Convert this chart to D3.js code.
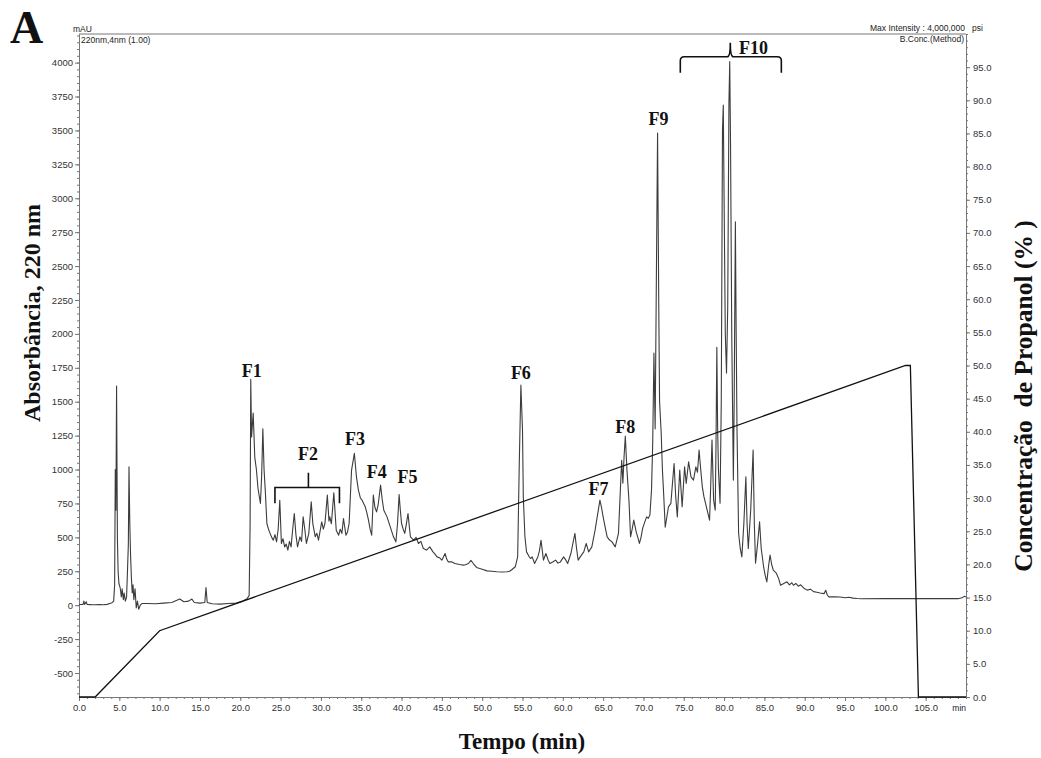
<!DOCTYPE html>
<meta charset="utf-8">
<style>
body { margin: 0; background: #fff; }
svg { display: block; }
.tick text { font: 9.5px "Liberation Sans", Arial, sans-serif; fill: #333; }
.axis path, .axis line { stroke: #777; }
.hdr { font: 8.5px "Liberation Sans", Arial, sans-serif; fill: #222; }
.lab { font-family: "Liberation Serif", "Times New Roman", serif; font-weight: bold; fill: #111; }
</style>
<svg width="1041" height="758"></svg>
<script src="https://d3js.org/d3.v7.min.js"></script>
<script>

// chromatogram, 220 nm (time in min, absorbance in mAU)
var absTime = [0.0,0.5,0.6,0.7,0.9,1.0,1.5,2.0,2.5,3.0,3.5,3.8,4.1,4.3,4.42,4.5,4.58,4.66,4.76,4.85,4.95,5.1,5.25,5.35,5.5,5.6,5.75,5.9,
  6.0,6.12,6.2,6.3,6.4,6.5,6.6,6.7,6.8,6.95,7.1,7.25,7.4,7.6,7.8,8.5,9.5,10.5,11.5,12.5,13.0,13.6,14.0,14.3,15.0,15.6,15.75,15.9,
  16.5,17.5,18.5,19.5,20.3,20.8,21.1,21.22,21.3,21.4,21.6,21.8,22.0,22.2,22.5,22.65,22.8,22.95,23.1,23.3,23.5,23.7,23.9,24.1,24.3,
  24.5,24.7,24.9,25.1,25.3,25.5,25.7,25.9,26.1,26.3,26.5,26.7,26.9,27.1,27.4,27.6,27.8,28.0,28.2,28.5,28.8,29.0,29.3,29.5,29.7,30.1,
  30.3,30.5,30.8,31.0,31.1,31.3,31.6,31.9,32.2,32.4,32.6,32.8,33.1,33.3,33.5,33.8,34.15,34.4,34.65,34.9,35.1,35.3,35.5,35.7,35.9,
  36.1,36.3,36.5,36.7,36.9,37.1,37.4,37.6,37.8,38.2,38.6,39.0,39.3,39.5,39.7,39.85,40.0,40.2,40.4,40.6,40.8,41.0,41.1,41.5,41.8,
  42.1,42.4,42.7,43.1,43.5,43.9,44.1,44.4,44.7,45.0,45.4,45.6,45.8,46.2,46.6,47.2,47.7,48.0,48.3,48.6,48.9,49.3,50.0,50.6,51.2,
  51.8,52.5,53.1,53.4,53.7,54.1,54.4,54.6,54.8,55.0,55.1,55.3,55.5,55.8,56.0,56.2,56.5,56.9,57.1,57.3,57.5,57.6,57.9,58.2,58.4,
  58.8,59.1,59.4,59.7,60.1,60.4,60.6,61.0,61.3,61.5,61.7,61.9,62.2,62.6,62.9,63.2,63.6,64.0,64.3,64.6,64.8,65.0,65.3,65.5,65.8,
  66.1,66.5,66.9,67.1,67.3,67.45,67.6,67.75,67.95,68.2,68.4,68.6,68.8,69.1,69.3,69.5,69.7,69.9,70.2,70.4,70.6,70.8,71.0,71.15,
  71.3,71.45,71.6,71.75,71.9,72.0,72.2,72.35,72.5,72.7,72.9,73.1,73.4,73.6,73.8,74.0,74.2,74.5,74.8,75.1,75.3,75.6,75.9,76.2,
  76.5,76.7,76.9,77.1,77.3,77.5,77.7,77.9,78.2,78.35,78.5,78.6,78.7,78.9,79.0,79.1,79.2,79.3,79.5,79.65,79.8,79.9,80.0,80.15,
  80.3,80.45,80.6,80.7,80.8,80.95,81.15,81.25,81.4,81.5,81.6,81.8,82.0,82.2,82.45,82.7,82.85,83.0,83.3,83.6,83.75,83.9,84.15,
  84.4,84.6,84.9,85.1,85.3,85.5,85.7,85.9,86.1,86.5,86.8,87.0,87.4,87.8,88.1,88.4,88.6,88.9,89.2,89.5,89.9,90.3,90.7,91.1,91.5,
  91.9,92.4,92.6,92.8,93.0,93.7,94.4,95.0,95.5,96.0,96.5,97.0,100.0,103.0,106.0,109.0,109.5,109.8,110.0];
var absValue = [5,5,30,6,25,6,4,3,5,3,6,12,18,30,150,1000,700,1615,500,250,160,130,60,120,40,90,30,60,
  230,450,1020,600,360,200,90,150,40,120,-20,30,-30,0,12,12,10,15,20,45,25,30,45,20,15,20,130,20,
  10,8,12,15,30,45,70,600,1665,1240,1416,1090,1000,860,750,950,1300,1000,848,602,560,529,500,479,520,
  467,560,774,455,490,430,450,406,470,430,560,676,520,430,504,470,651,560,455,530,762,600,504,530,479,614,
  560,602,811,620,651,600,828,553,516,560,529,639,516,540,602,996,1119,950,848,790,774,750,725,680,627,
  560,516,811,720,688,740,885,780,700,651,577,504,467,600,816,700,602,560,529,600,676,560,504,479,500,
  455,470,418,406,430,393,380,356,350,332,381,340,319,320,307,300,295,300,307,330,307,278,265,253,250,
  246,245,246,250,263,283,356,1045,1622,1290,799,504,393,360,344,356,307,356,400,479,380,332,381,330,307,
  320,332,310,319,356,330,307,381,470,529,420,332,360,393,455,393,430,553,664,774,720,651,560,504,480,
  467,430,529,800,1069,900,1100,1246,1000,774,504,560,627,541,500,455,500,566,620,651,640,664,850,1200,
  1858,1300,2400,3481,2200,1500,1268,1000,826,575,650,725,750,900,1045,800,651,996,725,1020,897,1057,946,922,
  1020,980,1143,1000,872,800,750,700,627,900,1217,1000,774,700,1200,1902,1300,1000,752,1500,3500,3687,3000,2000,
  1711,2200,3700,4007,3400,2000,922,1500,2827,2000,1300,530,420,356,600,946,600,418,700,1143,600,310,450,
  614,420,283,220,172,280,369,300,258,234,190,147,160,172,150,165,147,160,140,150,125,111,118,100,95,
  90,85,110,75,61,62,60,55,58,52,49,47,48,48,48,48,55,65,60];

// propanol gradient (% B)
var gradTime = [0, 2, 10, 102.5, 103.1, 104.1, 110];
var gradConc = [0, 0, 10, 50, 50, 0, 0];

// axis ticks
var absTicks = d3.range(-500, 4001, 250);
var timeTicks = d3.range(0, 106, 5);
var concTicks = d3.range(0, 96, 5);

// fraction labels
var fracNames = ["F1", "F2", "F3", "F4", "F5", "F6", "F7", "F8", "F9", "F10"];
var fracTime = [21.43, 28.4, 34.24, 36.93, 40.73, 54.8, 64.43, 67.74, 71.87, 83.66];
var fracAbs = [1681, 1069, 1184, 937, 900, 1670, 815, 1268, 3543, 4067];

var svg = d3.select("svg");

var x = d3.scaleLinear().domain([0, 110]).range([79, 966]);
var y = d3.scaleLinear().domain([-677, 4211]).range([697, 34]);
var yR = d3.scaleLinear().domain([0, 100]).range([697, 34]);

// top frame line
svg.append("line")
    .attr("x1", x(0)).attr("x2", x(110))
    .attr("y1", y.range()[1]).attr("y2", y.range()[1])
    .attr("stroke", "#777");

// minor ticks
svg.append("g").attr("class", "axis")
    .attr("transform", "translate(" + x(0) + ",0)")
    .call(d3.axisLeft(y).tickValues(d3.range(-650, 4201, 50)).tickSize(2).tickSizeOuter(0).tickFormat(""));
svg.append("g").attr("class", "axis")
    .attr("transform", "translate(0," + y.range()[0] + ")")
    .call(d3.axisBottom(x).tickValues(d3.range(0, 111, 1)).tickSize(2).tickSizeOuter(0).tickFormat(""));
svg.append("g").attr("class", "axis")
    .attr("transform", "translate(" + x(110) + ",0)")
    .call(d3.axisRight(yR).tickValues(d3.range(0, 101, 1)).tickSize(2).tickSizeOuter(0).tickFormat(""));

// major ticks
svg.append("g").attr("class", "axis")
    .attr("transform", "translate(" + x(0) + ",0)")
    .call(d3.axisLeft(y).tickValues(absTicks).tickSize(4).tickSizeOuter(0).tickPadding(2)
      .tickFormat(function(d) { return String(d); }));
svg.append("g").attr("class", "axis")
    .attr("transform", "translate(0," + y.range()[0] + ")")
    .call(d3.axisBottom(x).tickValues(timeTicks).tickSize(4).tickSizeOuter(0).tickPadding(3)
      .tickFormat(function(d) { return d.toFixed(1); }));
svg.append("g").attr("class", "axis")
    .attr("transform", "translate(" + x(110) + ",0)")
    .call(d3.axisRight(yR).tickValues(concTicks).tickSize(4).tickSizeOuter(0).tickPadding(3)
      .tickFormat(function(d) { return d.toFixed(1); }));

svg.selectAll(".axis .domain").attr("stroke", "#777");

// chromatogram
var absData = absTime.map(function(t, i) { return [t, absValue[i]]; });
svg.append("path")
    .datum(absData)
    .attr("fill", "none")
    .attr("stroke", "#3c3c3c")
    .attr("stroke-width", 1.1)
    .attr("stroke-linejoin", "round")
    .attr("d", d3.line().x(function(d) { return x(d[0]); }).y(function(d) { return y(d[1]); }));

// gradient
var gradData = gradTime.map(function(t, i) { return [t, gradConc[i]]; });
svg.append("path")
    .datum(gradData)
    .attr("fill", "none")
    .attr("stroke", "#111")
    .attr("stroke-width", 1.3)
    .attr("d", d3.line().x(function(d) { return x(d[0]); }).y(function(d) { return yR(d[1]); }));

// header texts
svg.append("text").attr("class", "hdr").attr("x", 73).attr("y", 32).text("mAU");
svg.append("text").attr("class", "hdr").attr("x", 81).attr("y", 43).text("220nm,4nm (1.00)");
svg.append("text").attr("class", "hdr").attr("x", 965).attr("y", 31).attr("text-anchor", "end").text("Max Intensity : 4,000,000");
svg.append("text").attr("class", "hdr").attr("x", 972).attr("y", 31).text("psi");
svg.append("text").attr("class", "hdr").attr("x", 964).attr("y", 42).attr("text-anchor", "end").text("B.Conc.(Method)");
svg.append("text").attr("class", "hdr").attr("x", 966).attr("y", 711).attr("text-anchor", "end").text("min");

// fraction labels
svg.selectAll(".frac")
    .data(fracNames)
  .enter().append("text")
    .attr("class", "lab frac")
    .attr("x", function(d, i) { return x(fracTime[i]); })
    .attr("y", function(d, i) { return y(fracAbs[i]); })
    .attr("text-anchor", "middle")
    .style("font-size", "18px")
    .text(function(d) { return d; });

// F2 bracket
var b2x0 = x(24.3), b2x1 = x(32.3), b2xm = x(28.45);
svg.append("path")
    .attr("fill", "none").attr("stroke", "#111").attr("stroke-width", 1.6)
    .attr("d", "M" + b2x0 + "," + y(752) + "V" + y(868) + "H" + b2x1 + "V" + y(752) +
               "M" + b2xm + "," + y(868) + "V" + y(976));

// F10 brace
var b10x0 = x(74.57), b10x1 = x(87.1), b10xm = x(80.77), by = y(4043), bEnd = y(3926), bTop = y(4147);
svg.append("path")
    .attr("fill", "none").attr("stroke", "#111").attr("stroke-width", 1.6)
    .attr("d", "M" + b10x0 + "," + bEnd + "V" + (by + 4) + "Q" + b10x0 + "," + by + " " + (b10x0 + 4) + "," + by +
               "H" + (b10xm - 3) + "Q" + b10xm + "," + by + " " + b10xm + "," + bTop +
               "Q" + b10xm + "," + by + " " + (b10xm + 3) + "," + by +
               "H" + (b10x1 - 4) + "Q" + b10x1 + "," + by + " " + b10x1 + "," + (by + 4) + "V" + bEnd);

// axis titles
svg.append("text").attr("class", "lab")
    .attr("x", 10).attr("y", 43)
    .style("font-size", "46px")
    .text("A");

svg.append("text").attr("class", "lab")
    .attr("transform", "translate(40,313) rotate(-90)")
    .attr("text-anchor", "middle")
    .style("font-size", "24px")
    .text("Absorbância, 220 nm");

svg.append("text").attr("class", "lab")
    .attr("transform", "translate(1032,396) rotate(-90)")
    .attr("text-anchor", "middle")
    .style("font-size", "25.5px")
    .style("white-space", "pre")
    .text("Concentração  de Propanol (% )");

svg.append("text").attr("class", "lab")
    .attr("x", 522).attr("y", 749)
    .attr("text-anchor", "middle")
    .style("font-size", "23px")
    .text("Tempo (min)");

</script>
